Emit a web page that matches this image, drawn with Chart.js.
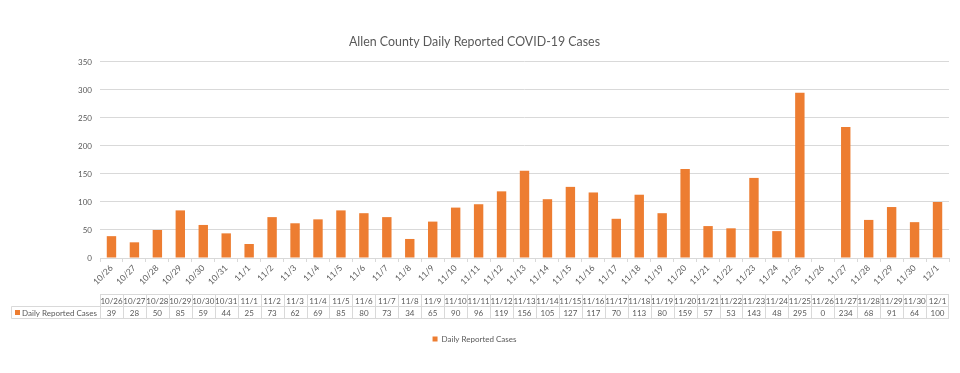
<!DOCTYPE html>
<html>
<head>
<meta charset="utf-8">
<script src="https://cdn.jsdelivr.net/npm/chart.js@4/dist/chart.umd.min.js"></script>
<style>
  html, body { margin: 0; padding: 0; background: #fff; }
  #wrap { width: 960px; height: 373px; }
</style>
</head>
<body>
<div id="wrap"><canvas id="chart" width="960" height="373"></canvas></div>
<script>
// ═══ DATA ═══
const DAYS = ['10/26','10/27','10/28','10/29','10/30','10/31',
  '11/1','11/2','11/3','11/4','11/5','11/6','11/7','11/8','11/9','11/10',
  '11/11','11/12','11/13','11/14','11/15','11/16','11/17','11/18','11/19','11/20',
  '11/21','11/22','11/23','11/24','11/25','11/26','11/27','11/28','11/29','11/30','12/1'];
const CASES = [39,28,50,85,59,44,
  25,73,62,69,85,80,73,34,65,90,
  96,119,156,105,127,117,70,113,80,159,
  57,53,143,48,295,0,234,68,91,64,100];
const Y_TICKS = [0,50,100,150,200,250,300,350];
const SERIES = 'Daily Reported Cases';

const ORANGE = '#ED7D31';
const GRID = '#d9d9d9';
const TEXT = '#595959';
const FONT = 'Lato, "Liberation Sans", sans-serif';

// ═══ DATA TABLE UNDER THE AXIS ═══
const dataTable = {
  id: 'dataTable',
  afterDraw(chart) {
    const { ctx } = chart;
    const x = chart.scales.x;
    const half = (x.right - x.left) / DAYS.length / 2;
    const top = 294.5, mid = 306.5, bot = 318.5, left = 11.5;

    ctx.save();
    ctx.strokeStyle = GRID;
    ctx.lineWidth = 1;
    ctx.beginPath();
    ctx.moveTo(x.left, top); ctx.lineTo(x.right, top);
    ctx.moveTo(left, mid); ctx.lineTo(x.right, mid);
    ctx.moveTo(left, bot); ctx.lineTo(x.right, bot);
    ctx.moveTo(left, mid); ctx.lineTo(left, bot);
    DAYS.forEach((d, i) => {
      const bx = Math.round(x.getPixelForValue(i) - half) + 0.5;
      ctx.moveTo(bx, top); ctx.lineTo(bx, bot);
    });
    const rx = Math.round(x.right) - 0.5;
    ctx.moveTo(rx, top); ctx.lineTo(rx, bot);
    ctx.stroke();

    ctx.fillStyle = TEXT;
    ctx.font = '8px ' + FONT;
    ctx.textAlign = 'center';
    ctx.textBaseline = 'middle';
    DAYS.forEach((d, i) => {
      const cx = x.getPixelForValue(i);
      ctx.fillText(d, cx, (top + mid) / 2 + 0.5);
      ctx.fillText(String(CASES[i]), cx, (mid + bot) / 2 + 0.5);
    });

    ctx.fillStyle = ORANGE;
    ctx.fillRect(15, 310, 5, 5);
    ctx.fillStyle = TEXT;
    ctx.textAlign = 'left';
    ctx.fillText(SERIES, 22, (mid + bot) / 2 + 0.5);
    ctx.restore();
  }
};

new Chart(document.getElementById('chart'), {
  type: 'bar',
  data: {
    labels: DAYS,
    datasets: [{
      label: SERIES,
      data: CASES,
      backgroundColor: ORANGE,
      borderWidth: 0,
      barPercentage: 0.41,
      categoryPercentage: 1
    }]
  },
  options: {
    responsive: false,
    animation: false,
    layout: { padding: { left: 0, right: 11, top: 0, bottom: 20 } },
    plugins: {
      title: {
        display: true,
        text: 'Allen County Daily Reported COVID-19 Cases',
        color: TEXT,
        font: { family: FONT, size: 12.4, weight: 'normal', lineHeight: 1.2 },
        padding: { top: 34.5, bottom: 12.6 }
      },
      legend: {
        position: 'bottom',
        labels: {
          color: TEXT,
          font: { family: FONT, size: 8 },
          boxWidth: 5,
          boxHeight: 5,
          padding: 10
        }
      },
      tooltip: { enabled: false }
    },
    scales: {
      x: {
        offset: true,
        grid: { display: true, drawOnChartArea: false, drawTicks: true, tickLength: 4, color: GRID, offset: true },
        border: { display: true, color: GRID },
        ticks: {
          color: TEXT,
          font: { family: FONT, size: 8.5 },
          minRotation: 45,
          maxRotation: 45,
          autoSkip: false,
          padding: 1
        },
        afterFit(scale) { scale.height = 67; }
      },
      y: {
        min: 0,
        max: 350,
        afterBuildTicks(scale) { scale.ticks = Y_TICKS.map(v => ({ value: v })); },
        grid: { color: GRID, drawTicks: false },
        border: { display: false },
        ticks: {
          color: TEXT,
          font: { family: FONT, size: 8 },
          padding: 8
        },
        afterFit(scale) { scale.width = 100; }
      }
    }
  },
  plugins: [dataTable]
});
</script>
</body>
</html>
